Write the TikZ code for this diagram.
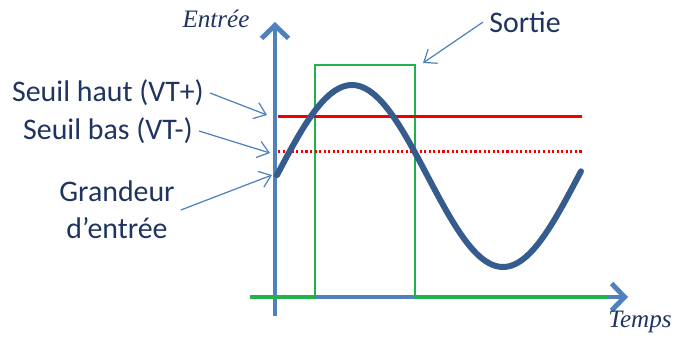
\documentclass[tikz,border=0pt]{standalone}
\usepackage{fontspec}
\setsansfont{Carlito}
\newfontfamily\axefont{Liberation Serif}
\usepackage{tikz}
\usetikzlibrary{arrows.meta}

\definecolor{axisblue}{RGB}{79,129,189}
\definecolor{wavblue}{RGB}{54,92,142}
\definecolor{navy}{RGB}{31,52,96}
\definecolor{outgreen}{RGB}{34,178,76}
\definecolor{seuilred}{RGB}{240,0,0}

\tikzset{
  axe/.style={line width=2.8pt, draw=axisblue, -{Straight Barb[length=2.6mm,width=5.4mm]}},
  fleche/.style={line width=0.7pt, draw=axisblue, -{Straight Barb[length=2.2mm,width=3.4mm]}},
  legende/.style={font=\sffamily\fontsize{17}{21}\selectfont, text=navy},
  titre/.style={font=\axefont\itshape\fontsize{14.3}{17}\selectfont, text=navy}
}

\begin{document}
\begin{tikzpicture}[x=0.02cm, y=-0.02cm]
\useasboundingbox (0,0) rectangle (690,343);

% axes
\draw[axe] (275,316) -- (275,22);
\draw[axe] (250,297) -- (628,297);

% sortie
\draw[line width=1.5pt, outgreen] (315,297) -- (315,65) -- (415,65) -- (415,297);
\draw[line width=2.8pt, outgreen] (250,297) -- (315,297) (415,297) -- (607,297);

% seuils
\draw[line width=1.7pt, seuilred] (278,116) -- (582,116);
\draw[line width=1.7pt, seuilred, dash pattern=on 1.2pt off 1.4pt] (278,151) -- (583,151);

% grandeur d'entree
\draw[line width=3.4pt, wavblue, line cap=round]
  plot[domain=277:581, samples=90, smooth] (\x, {176-91*sin(1.19205*(\x-276.5))});

% textes
\node[titre] (entree) at (216,19) {Entrée};
\node[titre] (temps) at (640,322) {Temps};
\node[legende] (sortie) at (525,22) {Sortie};
\node[legende] (haut) at (108,93) {Seuil haut (VT+)};
\node[legende] (bas) at (108,131) {Seuil bas (VT-)};
\node[legende, align=center] (grandeur) at (117,210) {Grandeur\\d’entrée};

\coordinate (phaut) at (267,115);
\coordinate (pbas) at (270,153);
\coordinate (pgrand) at (272,175);
\coordinate (psortie) at (423,63);

\draw[fleche] (haut.east) -- (phaut);
\draw[fleche] (bas.east) -- (pbas);
\draw[fleche] (grandeur.east) -- (pgrand);
\draw[fleche] (sortie.west) -- (psortie);

\end{tikzpicture}
\end{document}
